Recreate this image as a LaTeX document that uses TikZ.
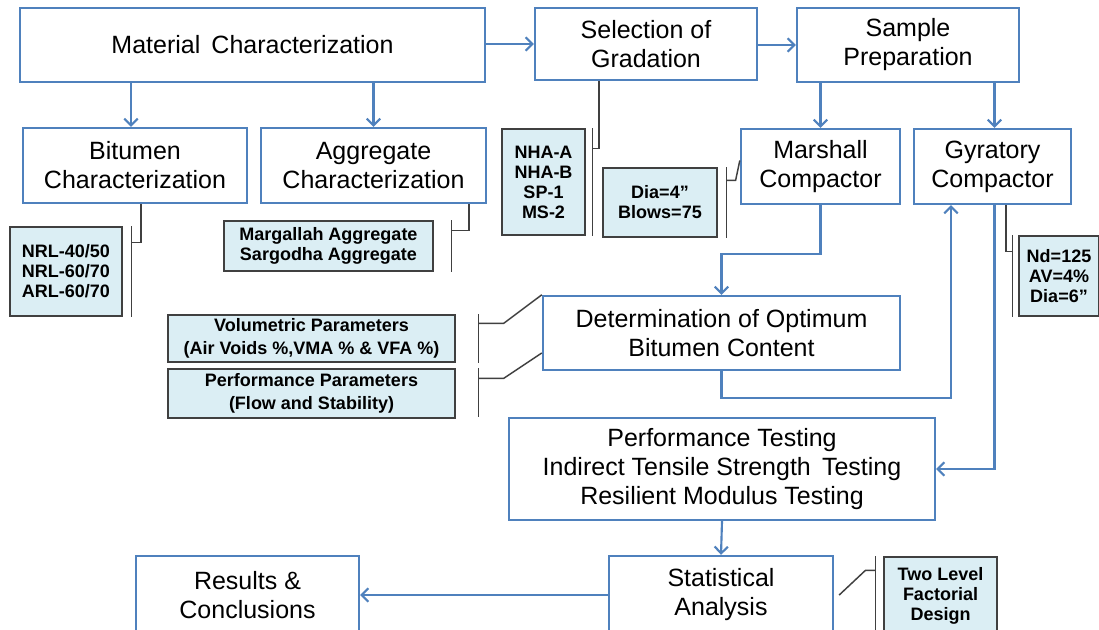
\documentclass[tikz,border=0pt]{standalone}
\usepackage{fontspec}
\setmainfont{Liberation Sans}
\usetikzlibrary{positioning,calc,arrows.meta}
\definecolor{OfficeBlue}{RGB}{79,129,189}
\definecolor{PaleAqua}{RGB}{219,238,244}
\definecolor{CalloutGray}{RGB}{64,64,64}

\begin{document}
\begin{tikzpicture}[x=0.75pt,y=-0.75pt,
    % main process boxes
    mainbox/.style={rectangle, draw=OfficeBlue, line width=1.8pt, fill=white, align=center, font=\fontsize{18.75}{21.75}\selectfont, inner sep=2pt},
    % small note boxes
    notebox/.style={rectangle, draw=black!75, line width=0.9pt, fill=PaleAqua, align=center, font=\fontsize{13.5}{15}\selectfont\bfseries, inner sep=2pt},
    % connectors
    arrowedge/.style={-{Straight Barb[length=5pt,width=10pt]}, draw=OfficeBlue, line width=1.6pt},
    callout/.style={draw=CalloutGray, line width=1.1pt}
]
    \clip (0,0) rectangle (1099,630);
    \fill[white] (0,0) rectangle (1099,630);

    % --- MAIN BOXES ---
    % Row 1
    \node[mainbox, minimum width=348.75pt, minimum height=55.5pt] (matchar) at (252.5,45) {Material\ \,Characterization};
    \node[mainbox, minimum width=166.5pt, minimum height=54pt] (gradsel) at (646,44) {Selection of\\Gradation};
    \node[mainbox, minimum width=166.5pt, minimum height=55.5pt] (sampprep) at (908,45) {Sample\\Preparation};

    % Row 2
    \node[mainbox, minimum width=168pt, minimum height=56.25pt] (bitchar) at (135,165.5) {Bitumen\\Characterization};
    \node[mainbox, minimum width=168.75pt, minimum height=56.25pt] (aggchar) at (373.5,165.5) {Aggregate\\Characterization};
    \node[mainbox, minimum width=119.25pt, minimum height=56.25pt] (marshall) at (820.5,166.5) {Marshall\\Compactor};
    \node[mainbox, minimum width=117.75pt, minimum height=56.25pt] (gyratory) at (992.5,166.5) {Gyratory\\Compactor};

    % Row 3 - 5
    \node[mainbox, minimum width=267.75pt, minimum height=55.5pt] (optbit) at (721.5,333) {Determination of Optimum\\Bitumen Content};
    \node[mainbox, minimum width=319.5pt, minimum height=76.5pt] (perftest) at (722,469) {Performance Testing\\Indirect Tensile Strength\ \,Testing\\Resilient Modulus Testing};
    \node[mainbox, minimum width=167.25pt, minimum height=58.5pt] (results) at (247.5,595) {Results \&\\Conclusions};
    \node[mainbox, minimum width=168pt, minimum height=58.5pt] (statan) at (721,595) {Statistical\\Analysis};

    % --- NOTE BOXES ---
    \node[notebox, minimum width=84pt, minimum height=66.75pt] (binders) at (66,271.5) {NRL-40/50\\NRL-60/70\\ARL-60/70};
    \node[notebox, minimum width=156.75pt, minimum height=37.5pt] (aggsrc) at (328.5,246) {Margallah Aggregate\\Sargodha Aggregate};
    \node[notebox, minimum width=62.25pt, minimum height=79.5pt] (gradlist) at (543.5,182) {NHA-A\\NHA-B\\SP-1\\MS-2};
    \node[notebox, minimum width=85.5pt, minimum height=51.75pt] (marspec) at (660,202.5) {Dia=4”\\Blows=75};
    \node[notebox, minimum width=60pt, minimum height=60pt] (gyrspec) at (1059,276) {Nd=125\\AV=4\%\\Dia=6”};
    \node[notebox, minimum width=215.25pt, minimum height=35.25pt, font=\fontsize{13.5}{17}\selectfont\bfseries] (volpar) at (311.5,338.5) {Volumetric Parameters\\(Air Voids \%,VMA \% \& VFA \%)};
    \node[notebox, minimum width=215.25pt, minimum height=36.75pt, font=\fontsize{13.5}{17}\selectfont\bfseries] (perfpar) at (311.5,393.5) {Performance Parameters\\(Flow and Stability)};
    \node[notebox, minimum width=84.75pt, minimum height=57.75pt] (factdes) at (940.5,595.5) {Two Level\\Factorial\\Design};

    % --- BLUE ARROWS ---
    \draw[arrowedge] (gradsel.west -| matchar.east) -- (gradsel.west);
    \draw[arrowedge] (sampprep.west -| gradsel.east) -- (sampprep.west);
    \draw[arrowedge] ($(bitchar.north |- matchar.south)+(-4,0)$) -- ($(bitchar.north)+(-4,0)$);
    \draw[arrowedge] (aggchar.north |- matchar.south) -- (aggchar.north);
    \draw[arrowedge] (marshall.north |- sampprep.south) -- (marshall.north);
    \draw[arrowedge] ($(gyratory.north |- sampprep.south)+(2,0)$) -- ($(gyratory.north)+(2,0)$);
    \draw[arrowedge] (marshall.south) -- ++(0,49) -| (optbit.north);
    \draw[arrowedge] (optbit.south) -- ++(0,27) -| ($(gyratory.south)+(-41.5,0)$);
    \draw[arrowedge] ($(gyratory.south)+(2,0)$) |- (perftest.east);
    \draw[arrowedge] (perftest.south) -- (statan.north);
    \draw[arrowedge] (statan.west) -- (results.east);

    % --- CALLOUTS ---
    \draw[callout] ($(binders.north east)+(9,0)$) -- ($(binders.south east)+(9,0)$);
    \draw[callout] ($(bitchar.south)+(6,0)$) |- ($(binders.north east)+(9,16)$);

    \draw[callout] ($(aggsrc.north east)+(18,0)$) -- ($(aggsrc.south east)+(18,0)$);
    \draw[callout] ($(aggchar.south east)+(-18,0)$) |- ($(aggsrc.north east)+(18,10)$);

    \draw[callout] ($(gradlist.north east)+(7,0)$) -- ($(gradlist.south east)+(7,0)$);
    \draw[callout] ($(gradsel.south)+(-47,0)$) |- ($(gradlist.north east)+(7,20)$);

    \draw[callout] ($(marspec.north east)+(9,0)$) -- ($(marspec.south east)+(9,0)$);
    \draw[callout] ($(marspec.north east)+(9,13)$) -- ++(9,0) -- ($(marshall.west)+(0,-6)$);

    \draw[callout] ($(gyrspec.north west)+(-6,0)$) -- ($(gyrspec.south west)+(-6,0)$);
    \draw[callout] ($(gyratory.south)+(13.5,0)$) |- ($(gyrspec.north west)+(-6,16)$);

    \draw[callout] ($(volpar.north east)+(23,0)$) -- ($(volpar.south east)+(23,0)$);
    \draw[callout] ($(volpar.north east)+(23,9)$) -- ++(25,0) -- (optbit.north west);

    \draw[callout] ($(perfpar.north east)+(23,0)$) -- ($(perfpar.south east)+(23,-2)$);
    \draw[callout] ($(perfpar.north east)+(23,10)$) -- ++(25,0) -- ($(optbit.west)+(0,20)$);

    \draw[callout] ($(factdes.north west)+(-8,0)$) -- ($(factdes.south west)+(-8,0)$);
    \draw[callout] ($(factdes.north west)+(-8,14)$) -- ++(-10,0) -- ($(statan.east)+(5,0)$);

\end{tikzpicture}
\end{document}
